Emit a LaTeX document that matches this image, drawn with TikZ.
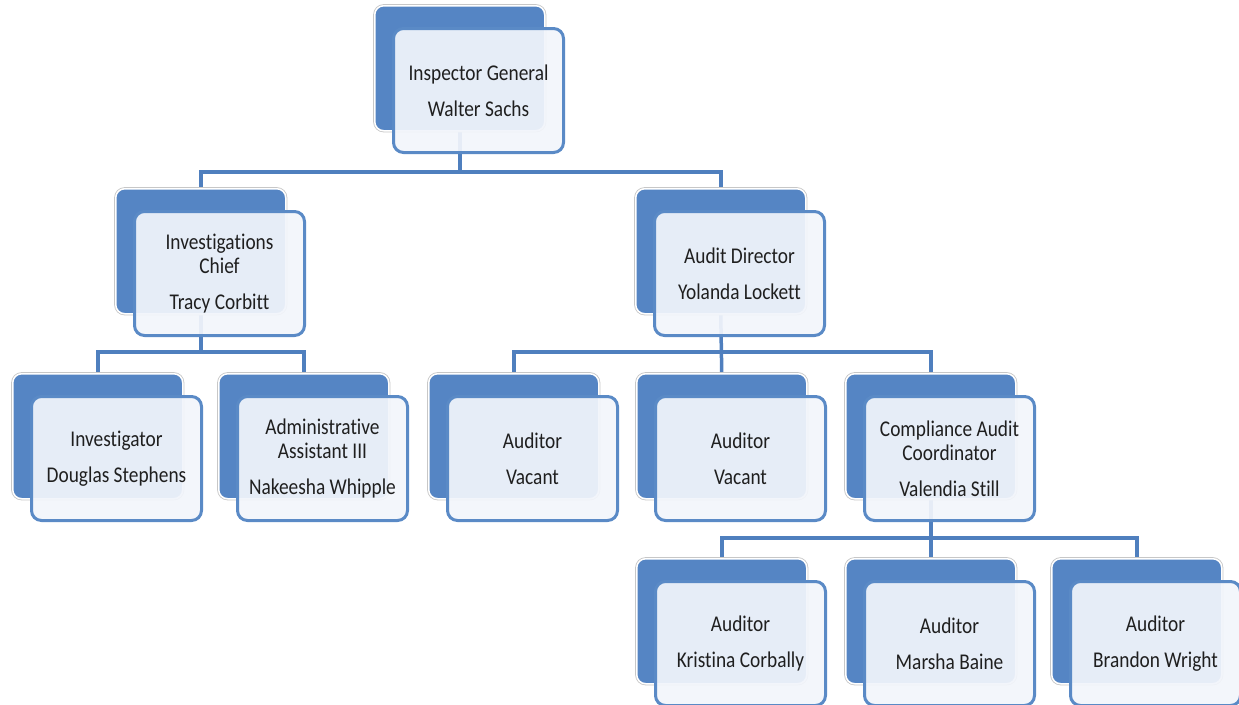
\documentclass[tikz,border=0pt]{standalone}
\usepackage{fontspec}
\setmainfont[FakeStretch=0.86, Ligatures={NoCommon}]{Carlito}
\usetikzlibrary{backgrounds}
\definecolor{bblue}{HTML}{5585C4}
\definecolor{fblue}{HTML}{5A8AC6}
\definecolor{cblue}{HTML}{4F7FBE}
\definecolor{ffill}{HTML}{F2F5FB}
\tikzset{
  backbox/.style={rectangle, rounded corners=9pt, minimum width=170pt, minimum height=125pt,
    inner sep=0pt, anchor=north west, fill=bblue, draw=white, line width=1.5pt,
    preaction={draw=black!22, line width=3.2pt}},
  frontbox/.style={rectangle, rounded corners=10pt, minimum width=170pt, minimum height=124pt,
    inner sep=0pt, anchor=north west, fill=ffill, fill opacity=0.93, text opacity=1,
    draw=fblue, line width=3pt, align=center, text=black!88,
    font=\fontsize{22.5}{24}\selectfont},
  conn/.style={draw=cblue, line width=3.5pt}
}
\newcommand\orgbox[4]{%
  \node[backbox] (#1) at (#2,#3) {};
  \node[frontbox] (#1-f) at ([shift={(18pt,-22pt)}]#1.north west) {#4};
}
\begin{document}
\begin{tikzpicture}[x=1pt,y=-1pt]
\useasboundingbox (0,0) rectangle (1239,704);
\orgbox{ig}{374}{5}{Inspector General\\[12pt]Walter Sachs}
\orgbox{ic}{115}{188}{Investigations\\Chief\\[12pt]Tracy Corbitt}
\orgbox{ad}{635}{188}{Audit Director\\[12pt]Yolanda Lockett}
\orgbox{inv}{12}{373}{Investigator\\[12pt]Douglas Stephens}
\orgbox{adm}{218}{373}{Administrative\\Assistant III\\[12pt]Nakeesha Whipple}
\orgbox{avone}{428}{373}{Auditor\\[12pt]Vacant}
\orgbox{avtwo}{636}{373}{Auditor\\[12pt]Vacant}
\orgbox{cac}{845}{373}{Compliance Audit\\Coordinator\\[12pt]Valendia Still}
\orgbox{kc}{636}{558}{Auditor\\[12pt]Kristina Corbally}
\orgbox{mb}{845}{558}{Auditor\\[12pt]Marsha Baine}
\orgbox{bw}{1051}{558}{Auditor\\[12pt]Brandon Wright}
\begin{scope}[on background layer]
\coordinate (b1) at (0,172);
\coordinate (b2) at (0,352);
\coordinate (b3) at (0,538);
\draw[conn] (ig.south) -- (ig.south |- b1) -| (ic.north);
\draw[conn] (ig.south |- b1) -| (ad.north);
\draw[conn] (ic.south) -- (ic.south |- b2) -| (inv.north);
\draw[conn] (ic.south |- b2) -| (adm.north);
\draw[conn] (ad.south) -- (avtwo.north);
\draw[conn] (avone.north) |- (ad.south |- b2) -| (cac.north);
\draw[conn] (cac.south) -- (mb.north);
\draw[conn] (kc.north) |- (cac.south |- b3) -| (bw.north);
\end{scope}
\end{tikzpicture}
\end{document}
